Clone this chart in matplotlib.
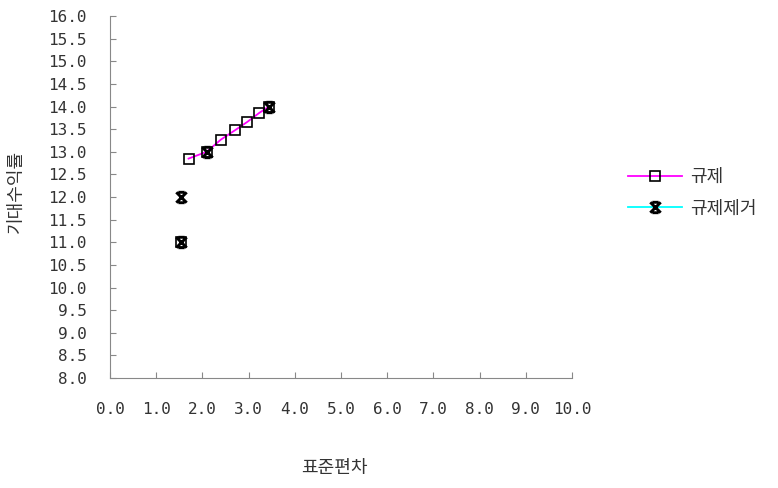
import numpy as np
import matplotlib.pyplot as plt
from matplotlib.path import Path
from matplotlib.lines import Line2D

plt.rcParams['font.family'] = ['Noto Sans CJK KR', 'DejaVu Sans']

# 규제 (regulated) series
reg_x = [1.70, 2.09, 2.40, 2.71, 2.97, 3.23, 3.44]
reg_y = [12.85, 13.0, 13.27, 13.48, 13.66, 13.86, 14.0]
# 규제제거 (deregulated) series
rem_x = [1.54, 1.54, 2.09, 3.44]
rem_y = [11.0, 12.0, 13.0, 14.0]

x_ticks = np.arange(0, 10.01, 1.0)
y_ticks = np.arange(8, 16.01, 0.5)

# star-like marker: X with short bars on top and bottom
star = Path([(-1, -1), (1, 1), (-1, 1), (1, -1),
             (-0.6, 1), (0.6, 1), (-0.6, -1), (0.6, -1)],
            [Path.MOVETO, Path.LINETO, Path.MOVETO, Path.LINETO,
             Path.MOVETO, Path.LINETO, Path.MOVETO, Path.LINETO])

fig = plt.figure(figsize=(7.78, 4.88), dpi=100)
ax = fig.add_axes([0.1414, 0.2254, 0.5938, 0.7416])

ax.plot(reg_x, reg_y, color='magenta', lw=1.3, marker='s', ms=7,
        mfc='none', mec='black', mew=1.2, zorder=3)
ax.plot(rem_x[:1], rem_y[:1], ls='none', marker='s', ms=7,
        mfc='none', mec='black', mew=1.2, zorder=3)
ax.plot(rem_x, rem_y, ls='none', marker=star, ms=7.5, mec='black',
        mew=2.1, zorder=4)

ax.set_xlim(0, 10)
ax.set_ylim(8, 16)
ax.set_xticks(x_ticks)
ax.set_yticks(y_ticks)
ax.set_xticklabels([f'{v:.1f}' for v in x_ticks], family='DejaVu Sans Mono')
ax.set_yticklabels([f'{v:.1f}' for v in y_ticks], family='DejaVu Sans Mono')
ax.tick_params(direction='in', length=4, color='#888888', labelsize=11.5,
               labelcolor='#333333')
ax.tick_params(axis='x', pad=17)
ax.tick_params(axis='y', pad=17)
for s in ['top', 'right']:
    ax.spines[s].set_visible(False)
for s in ['left', 'bottom']:
    ax.spines[s].set_color('#888888')

ax.set_xlabel('표준편차', fontsize=13, color='#333333')
ax.set_ylabel('기대수익률', fontsize=13, color='#333333')
ax.xaxis.set_label_coords(0.485, -0.225)
ax.yaxis.set_label_coords(-0.184, 0.515)

handles = [
    Line2D([], [], color='magenta', lw=1.3, marker='s', ms=7,
           mfc='none', mec='black', mew=1.2),
    Line2D([], [], color='cyan', lw=1.3, marker=star, ms=7.5,
           mec='black', mew=2.1),
]
fig.legend(handles, ['규제', '규제제거'], loc='upper left',
           bbox_to_anchor=(628 / 778, 1 - 168 / 488), frameon=False,
           fontsize=13, handlelength=3.0, handletextpad=0.45,
           labelspacing=0.75, borderpad=0, borderaxespad=0,
           labelcolor='#333333')

fig.savefig('out.png', dpi=100)
